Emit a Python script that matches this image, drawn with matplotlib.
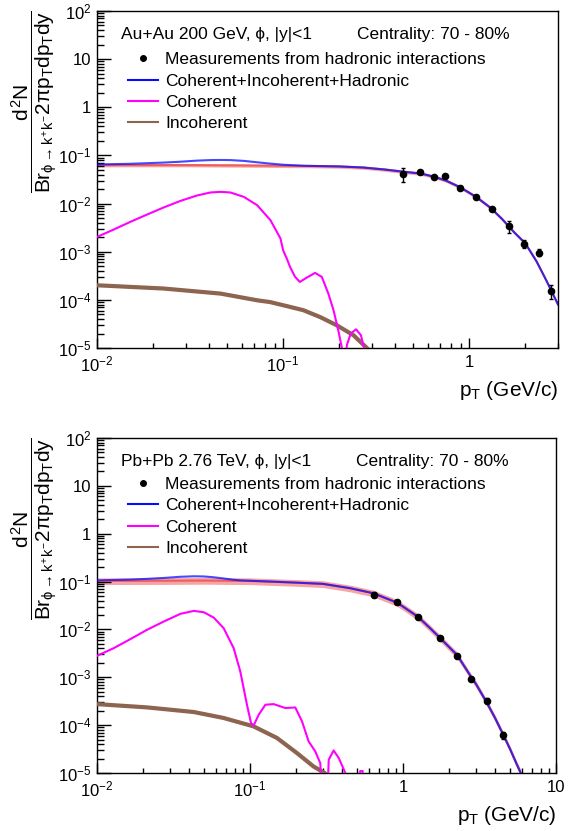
import numpy as np
import matplotlib
matplotlib.use('Agg')
import matplotlib.pyplot as plt
from matplotlib.lines import Line2D
from matplotlib.ticker import LogLocator, FuncFormatter, NullFormatter

plt.rcParams['font.family'] = ['Liberation Sans', 'DejaVu Sans']
plt.rcParams['mathtext.fontset'] = 'custom'
plt.rcParams['mathtext.rm'] = 'Liberation Sans'
plt.rcParams['mathtext.it'] = 'Liberation Sans'
plt.rcParams['mathtext.bf'] = 'Liberation Sans:bold'

# ---- Au+Au 200 GeV ----
au_pt_tot = [0.01, 0.0151, 0.0228, 0.0281, 0.0345, 0.0407, 0.0461, 0.0521, 0.0615, 0.0725, 0.0855,
             0.1, 0.13, 0.2, 0.27, 0.35, 0.44, 0.55, 0.65, 0.75, 0.89, 1.0, 1.1, 1.3, 1.5, 1.75,
             2.0, 2.3, 2.6, 3.0]
au_tot = [0.065, 0.067, 0.071, 0.074, 0.078, 0.080, 0.0805, 0.080, 0.077, 0.072, 0.0675,
          0.064, 0.061, 0.059, 0.056, 0.051, 0.046, 0.042, 0.036, 0.030, 0.022, 0.0168, 0.0134,
          0.0082, 0.0048, 0.0025, 0.00150, 6.3e-4, 2.5e-4, 8e-5]
au_pt_had = [0.01, 0.03, 0.06, 0.1, 0.15, 0.2, 0.27, 0.35, 0.44, 0.55, 0.65, 0.75, 0.89, 1.0, 1.1,
             1.3, 1.5, 1.75, 2.0, 2.3, 2.6, 3.0]
au_had = [0.063, 0.063, 0.062, 0.061, 0.060, 0.059, 0.056, 0.051, 0.046, 0.042, 0.036, 0.030, 0.022,
          0.0168, 0.0134, 0.0082, 0.0048, 0.0025, 0.00150, 6.3e-4, 2.5e-4, 8e-5]
au_band = 0.08
au_pt_coh = [0.01, 0.0123, 0.0151, 0.0186, 0.0228, 0.0281, 0.0345, 0.0407, 0.0461, 0.0521, 0.0615,
             0.0725, 0.0855, 0.0968, 0.1, 0.105, 0.109, 0.116, 0.123, 0.134, 0.1485, 0.1614, 0.175,
             0.1866, 0.198, 0.207, 0.212, 0.220, 0.231, 0.2466, 0.262, 0.272, 0.28]
au_coh = [0.00203, 0.00289, 0.00417, 0.00593, 0.0083, 0.01138, 0.01472, 0.01701, 0.0175, 0.0170,
          0.01377, 0.00927, 0.00452, 0.00188, 1.07e-3, 7.0e-4, 4.8e-4, 3.0e-4, 2.36e-4, 2.9e-4,
          3.63e-4, 3.0e-4, 1.35e-4, 6.1e-5, 2.3e-5, 1.0e-5, 1e-7, 1.15e-5, 2.0e-5, 2.45e-5,
          1.84e-5, 1.0e-5, 1e-7]
au_pt_inc = [0.01, 0.0228, 0.0461, 0.0725, 0.0851, 0.105, 0.1285, 0.158, 0.1945, 0.239, 0.282, 0.3]
au_inc = [2.01e-4, 1.72e-4, 1.35e-4, 9.8e-5, 9.0e-5, 7.4e-5, 6.1e-5, 4.4e-5, 2.96e-5, 1.84e-5,
          1.0e-5, 8e-6]
au_x = [0.443, 0.546, 0.643, 0.743, 0.887, 1.086, 1.33, 1.63, 1.97, 2.37, 2.75]
au_y = [0.041, 0.045, 0.0354, 0.0365, 0.0212, 0.0138, 0.0078, 0.0034, 0.00145, 0.00096, 1.55e-4]
au_err = [0.013, 0.004, 0.002, 0.002, 0.0015, 0.0008, 0.0005, 0.001, 0.00027, 0.00016, 5e-5]

# ---- Pb+Pb 2.76 TeV ----
pb_pt_tot = [0.01, 0.0165, 0.0212, 0.0273, 0.0351, 0.0429, 0.0498, 0.0579, 0.0673, 0.0782, 0.0864,
             0.1, 0.15, 0.2, 0.3, 0.45, 0.64, 0.91, 1.0, 1.26, 1.5, 1.75, 2.0, 2.26, 2.77, 3.0,
             3.52, 4.0, 4.53, 5.0, 5.5, 5.88]
pb_tot = [0.106, 0.110, 0.114, 0.119, 0.126, 0.129, 0.128, 0.123, 0.116, 0.109, 0.106,
          0.104, 0.099, 0.095, 0.0895, 0.0728, 0.057, 0.0365, 0.030, 0.0181, 0.0107, 0.0066,
          0.0043, 0.0029, 0.00105, 7.2e-4, 3.0e-4, 1.4e-4, 6.2e-5, 3.2e-5, 1.6e-5, 1.0e-5]
pb_pt_had = [0.01, 0.03, 0.05, 0.1, 0.2, 0.3, 0.45, 0.64, 0.91, 1.0, 1.26, 1.5, 1.75, 2.0, 2.26, 2.77,
             3.0, 3.52, 4.0, 4.53, 5.0, 5.5, 5.88]
pb_had = [0.103, 0.104, 0.105, 0.103, 0.095, 0.0895, 0.0728, 0.057, 0.0365, 0.030, 0.0181, 0.0107,
          0.0066, 0.0043, 0.0029, 0.00105, 7.2e-4, 3.0e-4, 1.4e-4, 6.2e-5, 3.2e-5, 1.6e-5, 1.0e-5]
pb_band = 0.16
pb_pt_coh = [0.01, 0.01285, 0.0165, 0.0212, 0.0273, 0.0351, 0.0429, 0.0498, 0.0579, 0.0673, 0.0782,
             0.0864, 0.0955, 0.1016, 0.1057, 0.114, 0.126, 0.1428, 0.170, 0.1977, 0.2187, 0.2416,
             0.267, 0.288, 0.3077, 0.327, 0.352, 0.380, 0.42, 0.45, 0.50, 0.525, 0.545, 0.565]
pb_coh = [0.00281, 0.00406, 0.00627, 0.0098, 0.01463, 0.0212, 0.0244, 0.0229, 0.0177, 0.0106,
          0.00406, 1.32e-3, 2.67e-4, 1.1e-4, 9.9e-5, 1.65e-4, 2.67e-4, 2.75e-4, 2.28e-4, 2.34e-4,
          1.2e-4, 4.57e-5, 2.83e-5, 1.6e-5, 1e-7, 1.9e-5, 2.96e-5, 2.06e-5, 1.0e-5, 1e-7, 1e-7,
          1.1e-5, 1.1e-5, 1e-7]
pb_pt_inc = [0.01, 0.0212, 0.0429, 0.0673, 0.1057, 0.15, 0.203, 0.26, 0.3077, 0.33]
pb_inc = [2.75e-4, 2.35e-4, 1.88e-4, 1.41e-4, 9.4e-5, 5.4e-5, 2.6e-5, 1.37e-5, 1.0e-5, 8e-6]
pb_x = [0.645, 0.91, 1.26, 1.75, 2.26, 2.77, 3.52, 4.53]
pb_y = [0.0537, 0.0371, 0.0181, 0.00658, 0.00277, 9.3e-4, 3.24e-4, 6.1e-5]
pb_err = [0.006, 0.003, 0.0015, 0.0007, 0.0003, 0.0001, 0.00004, 0.00001]

labels = ['Measurements from hadronic interactions', 'Coherent+Incoherent+Hadronic',
          'Coherent', 'Incoherent']

C_TOT = '#0a0aff'
C_COH = '#ff00ff'
C_INC = '#8c6450'
C_BAND = '#f7a4a4'


def tick_fmt(v, pos):
    e = int(round(np.log10(v)))
    if e == 0:
        return '1'
    if e == 1:
        return '10'
    return r'$10^{%d}$' % e


def panel(ax, xmax, pt_tot, tot, pt_had, had, band, pt_coh, coh, pt_inc, inc,
          dx, dy, derr, title, leg_y):
    had = np.array(had)
    ax.fill_between(pt_had, had * (1 - band), had * (1 + band), color=C_BAND, lw=0, zorder=1)
    ax.plot(pt_had, had, color='#e83030', lw=1.5, alpha=0.6, zorder=2)
    ax.plot(pt_inc, inc, color=C_INC, lw=3, zorder=3)
    ax.plot(pt_coh, coh, color=C_COH, lw=1.5, zorder=4)
    ax.plot(pt_tot, tot, color=C_TOT, lw=1.5, alpha=0.75, zorder=5)
    ax.errorbar(dx, dy, yerr=derr, fmt='o', color='k', ms=4.5, elinewidth=1, capsize=1.5, zorder=6)

    ax.set_xscale('log')
    ax.set_yscale('log')
    ax.set_xlim(0.01, xmax)
    ax.set_ylim(1e-5, 100)
    for axis in (ax.xaxis, ax.yaxis):
        axis.set_major_locator(LogLocator(base=10, numticks=20))
        axis.set_minor_locator(LogLocator(base=10, subs=np.arange(2, 10), numticks=20))
        axis.set_major_formatter(FuncFormatter(tick_fmt))
        axis.set_minor_formatter(NullFormatter())
    ax.tick_params(which='both', direction='in', top=False, right=False, labelsize=12, width=1)
    ax.tick_params(axis='y', which='major', length=10, pad=4)
    ax.tick_params(axis='y', which='minor', length=5)
    ax.tick_params(axis='x', which='major', length=7, pad=5)
    ax.tick_params(axis='x', which='minor', length=3.6)
    for s in ax.spines.values():
        s.set_linewidth(1)

    ax.set_xlabel(r'$p_{T}$ (GeV/c)', fontsize=15, loc='right', labelpad=3)
    ax.set_ylabel(r'$\dfrac{d^{2}N}{Br_{\phi\rightarrow k^{+}k^{-}}2\pi p_{T}dp_{T}dy}$',
                  fontsize=15, loc='top')
    ax.yaxis.set_label_coords(-0.083, 1.0)

    ax.text(0.052, 0.93, title, transform=ax.transAxes, fontsize=12.5, va='center', ha='left')
    ax.text(0.564, 0.93, 'Centrality: 70 - 80%', transform=ax.transAxes, fontsize=12.5,
            va='center', ha='left')

    handles = [Line2D([], [], ls='none', marker='o', color='k', ms=4),
               Line2D([], [], color=C_TOT, lw=1.5),
               Line2D([], [], color=C_COH, lw=1.5),
               Line2D([], [], color=C_INC, lw=1.5)]
    ax.legend(handles, labels, loc='upper left', bbox_to_anchor=(0.067, leg_y), frameon=False,
              fontsize=12.5, handlelength=1.75, handletextpad=0.4, labelspacing=0.36,
              borderpad=0, borderaxespad=0)


fig = plt.figure(figsize=(5.68, 8.31), dpi=100)
ax1 = fig.add_axes([0.1708, 0.5812, 0.8116, 0.4056])
ax2 = fig.add_axes([0.1708, 0.0698, 0.8081, 0.4031])

panel(ax1, 3.0, au_pt_tot, au_tot, au_pt_had, au_had, au_band, au_pt_coh, au_coh,
      au_pt_inc, au_inc, au_x, au_y, au_err, 'Au+Au 200 GeV, \u03d5, |y|<1', 0.878)
panel(ax2, 10.0, pb_pt_tot, pb_tot, pb_pt_had, pb_had, pb_band, pb_pt_coh, pb_coh,
      pb_pt_inc, pb_inc, pb_x, pb_y, pb_err, 'Pb+Pb 2.76 TeV, \u03d5, |y|<1', 0.884)

fig.savefig('out.png', dpi=100)
